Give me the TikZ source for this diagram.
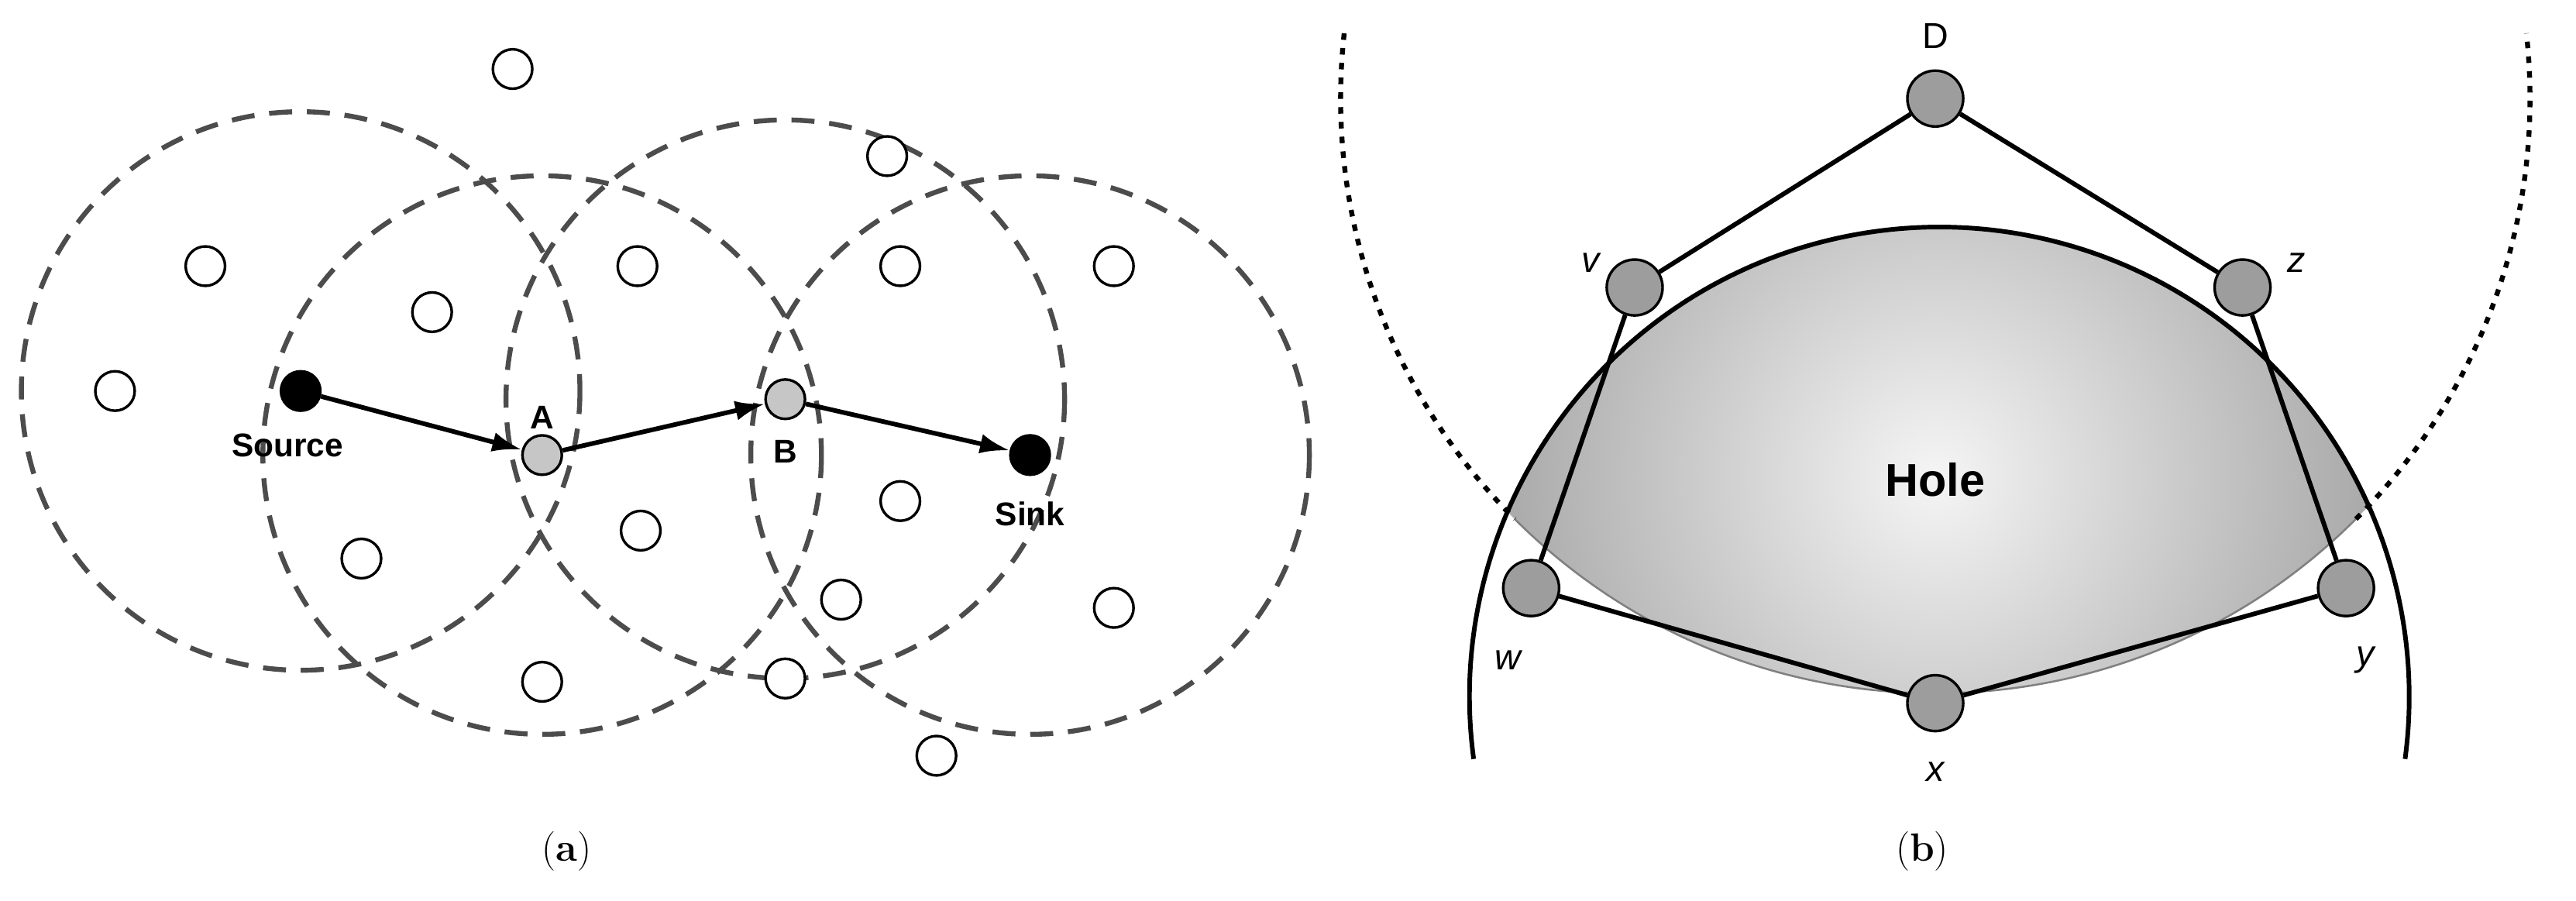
\documentclass[tikz,border=0pt]{standalone}
\usepackage{fontspec}
\usetikzlibrary{arrows.meta}
\setsansfont{Liberation Sans}
\begin{document}
\begin{tikzpicture}[x=1pt,y=-1pt,
  sn/.style={circle,draw=black,line width=1.6pt,fill=white,minimum size=24pt,inner sep=0pt},
  bn/.style={sn,fill=black},
  gn/.style={sn,fill=gray!45},
  hn/.style={circle,draw=black,line width=1.6pt,fill=gray!90!black!70,minimum size=34pt,inner sep=0pt},
  rng/.style={dashed,dash pattern=on 14pt off 9pt,line width=3pt,draw=black!70},
  arr/.style={-{Latex[length=18pt,width=12pt]},line width=2.8pt},
  lab/.style={font=\sffamily\bfseries\fontsize{20}{22}\selectfont},
  ilab/.style={font=\sffamily\itshape\fontsize{22}{24}\selectfont},
  dots/.style={dash pattern=on 4pt off 5pt,line width=3pt},
  edge/.style={line width=2.8pt}]
\useasboundingbox (0,0) rectangle (1568,548);
% panel a
\foreach \c in {(183,238),(330,277),(478,243),(627,277)} \draw[rng] \c circle (170);
\foreach \p/\n in {{(312,42)}/s1,{(125,162)}/s2,{(263,190)}/s3,{(70,238)}/s4,{(388,162)}/s5,{(540,95)}/s6,{(548,162)}/s7,{(678,162)}/s8,{(548,305)}/s9,{(390,323)}/s10,{(220,340)}/s11,{(512,365)}/s12,{(678,370)}/s13,{(330,415)}/s14,{(478,413)}/s15,{(570,460)}/s16}
  \node[sn] (\n) at \p {};
\node[bn] (src) at (183,238) {};
\node[gn] (A) at (330,277) {};
\node[gn] (B) at (478,243) {};
\node[bn] (snk) at (627,277) {};
\draw[arr] (src) -- (A);
\draw[arr] (A) -- (B);
\draw[arr] (B) -- (snk);
\node[lab] at (175,271) {Source};
\node[lab] at (330,254) {A};
\node[lab] at (478,275) {B};
\node[lab] at (627,313) {Sink};
\node[font=\fontsize{24}{26}\selectfont] at (345,518) {(\textbf{a})};
\node[font=\fontsize{24}{26}\selectfont] at (1170,518) {(\textbf{b})};
% panel b
\begin{scope}
\clip (1180,424) circle (286);
\clip (1178,60) circle (362);
\shade[inner color=gray!8, outer color=gray!75] (1178,290) circle (300);
\end{scope}
\draw[gray,line width=1.2pt] (1178,60) ++(135:362) arc (135:45:362);
\draw[line width=2.8pt] (897,462) arc (172.4:367.6:286);
\draw[dots] (1178,60) ++(186.3:362) arc (186.3:135:362);
\draw[dots] (1178,60) ++(45:362) arc (45:-6.3:362);
\node[hn] (D) at (1178,60) {};
\node[hn] (v) at (995,175) {};
\node[hn] (z) at (1365,175) {};
\node[hn] (w) at (932,358) {};
\node[hn] (y) at (1428,358) {};
\node[hn] (x) at (1178,428) {};
\draw[edge] (D) -- (v) (D) -- (z) (v) -- (w) (z) -- (y) (w) -- (x) (x) -- (y);
\node[font=\sffamily\fontsize{22}{24}\selectfont] at (1178,22) {D};
\node[ilab] at (968,160) {v};
\node[ilab] at (1398,160) {z};
\node[ilab] at (918,402) {w};
\node[ilab] at (1440,402) {y};
\node[ilab] at (1178,470) {x};
\node[font=\sffamily\bfseries\fontsize{28}{30}\selectfont] at (1178,292) {Hole};
\end{tikzpicture}
\end{document}
